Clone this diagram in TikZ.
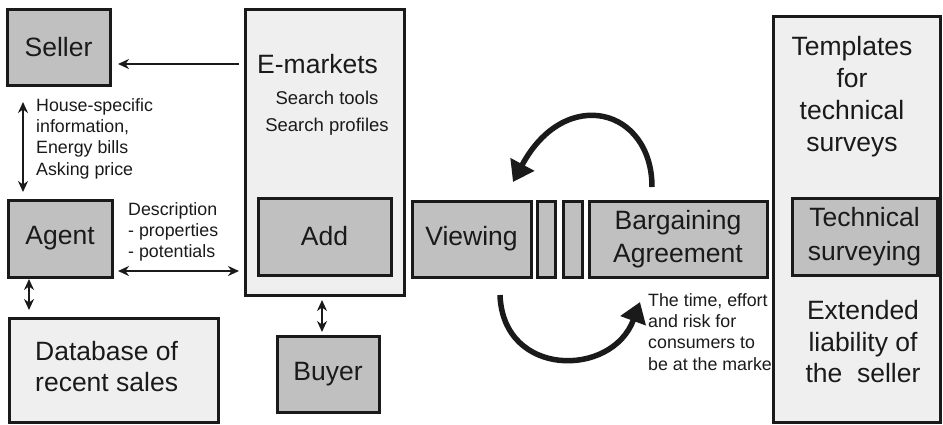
\documentclass[tikz,border=0pt]{standalone}
\usepackage{fontspec}
\setmainfont{Liberation Sans}
\usetikzlibrary{arrows.meta}
\definecolor{boxgray}{HTML}{C0C0C0}
\definecolor{boxlight}{HTML}{EFEFEF}
\definecolor{ink}{HTML}{1A1A1A}
\begin{document}
\begin{tikzpicture}[x=1pt,y=-1pt,
  base/.style={draw=ink,line width=3pt,inner sep=0pt,text=ink,align=center},
  dark/.style={base,fill=boxgray},
  light/.style={base,fill=boxlight},
  txt/.style={text=ink,inner sep=0pt,align=center},
  big/.style={font=\fontsize{26.5}{31}\selectfont},
  small/.style={txt,font=\fontsize{17.8}{21.3}\selectfont},
  thin/.style={draw=ink,line width=2.8pt},
  tip/.style={-{Stealth[length=11pt,width=10pt]}},
  both/.style={{Stealth[length=11pt,width=10pt]}-{Stealth[length=11pt,width=10pt]}},
  curl/.style={draw=ink,line width=5.5pt,-{Triangle[length=20pt,width=26pt]}}]
\useasboundingbox (0,0) rectangle (943,424);
% text partly hidden by the right box
\node[small,anchor=north west,align=left] (time) at (648,293) {The time, effort\\and risk for\\consumers to\\be at the market};
% boxes
\node[dark,big,minimum width=103pt,minimum height=76pt] (seller) at (58.5,47) {Seller};
\node[dark,big,minimum width=104pt,minimum height=77pt] (agent) at (60,238.5) {Agent};
\node[light,minimum width=209pt,minimum height=104pt] (db) at (113.5,370) {};
\node[txt,big,anchor=west,align=left] (dbt) at (35,367) {Database of\\recent sales};
\node[light,minimum width=159pt,minimum height=286pt] (emk) at (324.5,152) {};
\node[txt,big,anchor=west] (emkt) at (257,64) {E-markets};
\node[txt,font=\fontsize{18.5}{27}\selectfont] (srch) at (327,113.5) {Search tools\\Search profiles};
\node[dark,big,minimum width=133pt,minimum height=77pt] (add) at (324.5,236.5) {Add};
\node[dark,big,minimum width=102pt,minimum height=76pt] (buyer) at (328,374) {Buyer};
\node[dark,big,minimum width=119pt,minimum height=76pt] (view) at (471.5,239) {Viewing};
\node[dark,minimum width=18pt,minimum height=76pt] (bar1) at (546,239) {};
\node[dark,minimum width=19pt,minimum height=76pt] (bar2) at (572.5,239) {};
\node[dark,font=\fontsize{26.5}{33}\selectfont,minimum width=178pt,minimum height=76pt] (barg) at (678,239) {Bargaining\\Agreement};
\node[light,minimum width=167pt,minimum height=406pt] (right) at (856.5,219) {};
\node[txt,font=\fontsize{26.5}{32}\selectfont] (tmpl) at (852,97) {Templates\\for\\technical\\surveys};
\node[dark,font=\fontsize{26.5}{34}\selectfont,minimum width=145pt,minimum height=77pt] (tech) at (864.5,236.5) {Technical\\surveying};
\node[txt,font=\fontsize{26.5}{31.5}\selectfont] (ext) at (863,342) {Extended\\liability of\\the\ \ seller};
% small texts
\node[small,anchor=north west,align=left] (house) at (36,98) {House-specific\\information,\\Energy bills\\Asking price};
\node[small,anchor=north west,align=left] (desc) at (128,202) {Description\\- properties\\- potentials};
% connectors
\coordinate (emkL) at (239,64);
\coordinate (selR) at (118,64);
\draw[thin,tip] (emkL) -- (selR);
\coordinate (sa1) at (23,102);
\coordinate (sa2) at (23,192);
\draw[thin,both] (sa1) -- (sa2);
\coordinate (ag1) at (29,279);
\coordinate (ag2) at (29,310);
\draw[thin,both] (ag1) -- (ag2);
\coordinate (de1) at (118,271);
\coordinate (de2) at (239,271);
\draw[thin,both] (de1) -- (de2);
\coordinate (bu1) at (322,300);
\coordinate (bu2) at (322,332);
\draw[thin,both] (bu1) -- (bu2);
% curved arrows
\coordinate (c1s) at (652,187);
\coordinate (c1e) at (513,182);
\draw[curl] (c1s) .. controls (652,108) and (565,85) .. (c1e);
\coordinate (c2s) at (500,295);
\coordinate (c2e) at (640,302);
\draw[curl] (c2s) .. controls (503,378) and (612,378) .. (c2e);
\end{tikzpicture}
\end{document}
